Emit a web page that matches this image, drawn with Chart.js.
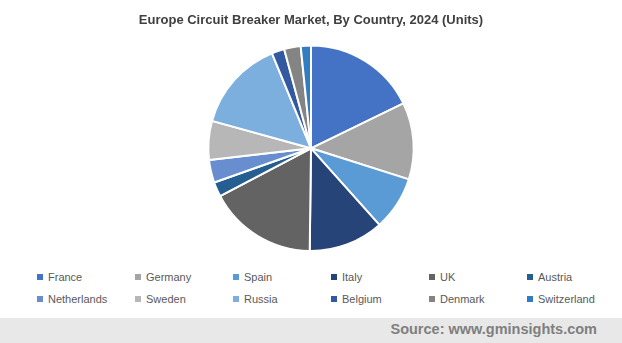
<!DOCTYPE html>
<html>
<head>
<meta charset="utf-8">
<script src="https://cdn.jsdelivr.net/npm/chart.js@4"></script>
<style>
    body { margin: 0; background: #fff; font-family: "Liberation Sans", Arial, sans-serif; }
    .wrap { position: relative; width: 622px; height: 343px; overflow: hidden; }
    #pie { position: absolute; left: 0; top: 0; }
    .legend { position: absolute; left: 37px; top: 271px; }
    .legend span { position: absolute; white-space: nowrap; font-size: 11px; color: #595959; }
    .legend i { display: inline-block; width: 6px; height: 6px; margin-right: 5px; vertical-align: 1px; }
    .source { position: absolute; left: 0; top: 318px; width: 622px; height: 25px; background: #e8e8e8; }
    .source b { position: absolute; right: 25px; top: 3px; font-size: 14.5px; color: #7f7f7f; }
</style>
</head>
<body>
<div class="wrap">
    <canvas id="pie" width="622" height="256"></canvas>
    <div class="legend" id="legend"></div>
    <div class="source"><b>Source: www.gminsights.com</b></div>
</div>
<script>
const countries = ['France', 'Germany', 'Spain', 'Italy', 'UK', 'Austria',
    'Netherlands', 'Sweden', 'Russia', 'Belgium', 'Denmark', 'Switzerland'];
const shares = [17.8, 12.1, 8.5, 11.8, 17.1, 2.3, 3.6, 6.1, 14.5, 2.0, 2.6, 1.6];
const colors = ['#4472c4', '#a5a5a5', '#5b9bd5', '#264478', '#636363', '#255e91',
    '#698ed0', '#b7b7b7', '#7cafdd', '#335aa1', '#848484', '#327dc2'];

// legend in a 6 x 2 grid like the original
const legendBox = document.getElementById('legend');
countries.forEach((name, i) => {
    const item = document.createElement('span');
    item.style.left = (i % 6) * 98 + 'px';
    item.style.top = Math.floor(i / 6) * 22 + 'px';
    item.innerHTML = `<i style="background:${colors[i]}"></i>${name}`;
    legendBox.appendChild(item);
});

new Chart(document.getElementById('pie').getContext('2d'), {
    type: 'pie',
    data: {
        labels: countries,
        datasets: [{
            data: shares,
            backgroundColor: colors,
            borderColor: '#ffffff',
            borderWidth: 2
        }]
    },
    options: {
        responsive: false,
        animation: false,
        layout: { padding: { bottom: 4 } },
        plugins: {
            legend: { display: false },
            tooltip: { enabled: false },
            title: {
                display: true,
                text: 'Europe Circuit Breaker Market, By Country, 2024 (Units)',
                color: '#404040',
                font: { size: 13, weight: 'bold', family: '"Liberation Sans", Arial, sans-serif' },
                padding: { top: 13, bottom: 16 }
            }
        }
    }
});
</script>
</body>
</html>
